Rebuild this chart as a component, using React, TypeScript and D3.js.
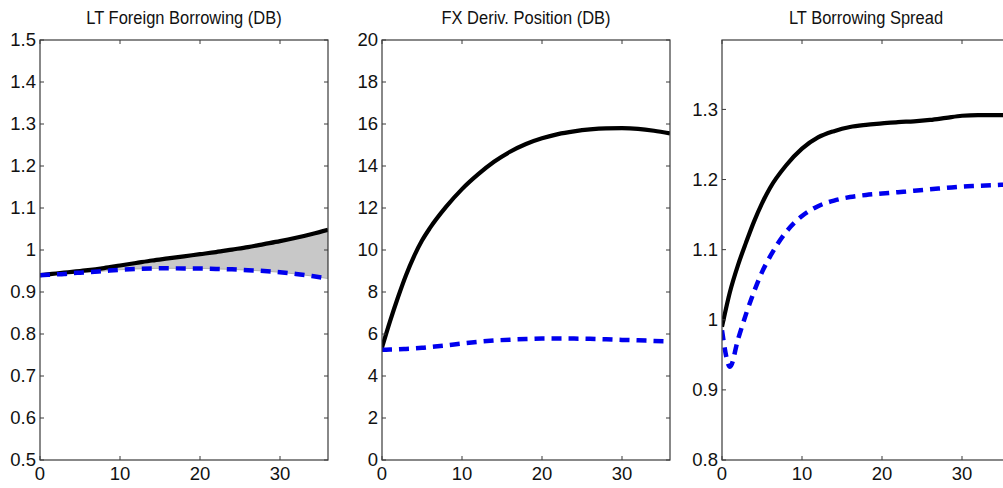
import React from "react";
import * as d3 from "d3";

const periods = [0, 1, 2, 3, 4, 5, 6, 8, 10, 12, 14, 16, 18, 20, 22, 24, 26, 28, 30, 32, 34, 36];

const borrowingSolid = [0.94, 0.942, 0.944, 0.946, 0.948, 0.95, 0.952, 0.957, 0.963, 0.969, 0.975, 0.98, 0.985, 0.99, 0.995, 1.001, 1.007, 1.014, 1.021, 1.029, 1.038, 1.048];
const borrowingDashed = [0.94, 0.941, 0.942, 0.943, 0.945, 0.946, 0.947, 0.95, 0.953, 0.955, 0.956, 0.9565, 0.956, 0.956, 0.955, 0.954, 0.952, 0.95, 0.947, 0.943, 0.938, 0.932];

const fxSolid = [5.35, 6.6, 7.75, 8.8, 9.7, 10.45, 11.05, 12.05, 12.9, 13.6, 14.2, 14.68, 15.05, 15.32, 15.52, 15.65, 15.74, 15.79, 15.8, 15.77, 15.68, 15.55];
const fxDashed = [5.25, 5.26, 5.27, 5.29, 5.31, 5.34, 5.38, 5.46, 5.55, 5.63, 5.69, 5.73, 5.76, 5.78, 5.78, 5.78, 5.77, 5.75, 5.72, 5.7, 5.67, 5.65];

const spreadSolid = [0.99, 1.04, 1.078, 1.11, 1.14, 1.166, 1.188, 1.22, 1.244, 1.26, 1.269, 1.275, 1.278, 1.28, 1.282, 1.283, 1.285, 1.288, 1.291, 1.292, 1.292, 1.292];
const spreadDashed = [0.985, 0.933, 0.972, 1.008, 1.04, 1.068, 1.09, 1.125, 1.148, 1.162, 1.17, 1.175, 1.178, 1.18, 1.182, 1.184, 1.186, 1.188, 1.19, 1.191, 1.192, 1.193];

const xTicks = [0, 10, 20, 30];
const ticks1 = [0.5, 0.6, 0.7, 0.8, 0.9, 1.0, 1.1, 1.2, 1.3, 1.4, 1.5];
const ticks2 = [0, 2, 4, 6, 8, 10, 12, 14, 16, 18, 20];
const ticks3 = [0.8, 0.9, 1.0, 1.1, 1.2, 1.3];

const titles = ["LT Foreign Borrowing (DB)", "FX Deriv. Position (DB)", "LT Borrowing Spread"];

type PanelSpec = {
  title: string;
  left: number;
  domain: [number, number];
  ticks: number[];
  solid: number[];
  dashed: number[];
  shade: boolean;
};

const panels: PanelSpec[] = [
  { title: titles[0], left: 40, domain: [0.5, 1.5], ticks: ticks1, solid: borrowingSolid, dashed: borrowingDashed, shade: true },
  { title: titles[1], left: 382, domain: [0, 20], ticks: ticks2, solid: fxSolid, dashed: fxDashed, shade: false },
  { title: titles[2], left: 722, domain: [0.8, 1.399], ticks: ticks3, solid: spreadSolid, dashed: spreadDashed, shade: false },
];

const TOP = 40;
const BOTTOM = 460;
const WIDTH = 288;
const FONT = "'Liberation Sans', Arial, sans-serif";
const AXIS = "#3a3a3a";
const TICK = 4;
const TICK_FONT = 18.5;

function fmt(v: number) {
  return d3.format("~g")(Number(v.toFixed(2)));
}

function Panel({ p, idx }: { p: PanelSpec; idx: number }) {
  const x = d3.scaleLinear().domain([0, 36]).range([p.left, p.left + WIDTH]);
  const y = d3.scaleLinear().domain(p.domain).range([BOTTOM, TOP]);
  const line = d3.line<number>().x((_, i) => x(periods[i])).y((d) => y(d)).curve(d3.curveMonotoneX);
  const area = d3
    .area<number>()
    .x((_, i) => x(periods[i]))
    .y0((_, i) => y(p.dashed[i]))
    .y1((d) => y(d))
    .curve(d3.curveMonotoneX);
  const clipId = `clip${idx}`;
  const right = p.left + WIDTH;
  return (
    <g>
      <defs>
        <clipPath id={clipId}>
          <rect x={p.left} y={TOP} width={WIDTH} height={BOTTOM - TOP} />
        </clipPath>
      </defs>
      <text
        transform={`translate(${p.left + WIDTH / 2},24) scale(1,1.12)`}
        textAnchor="middle"
        fontFamily={FONT}
        fontSize={16.5}
        fill="#111"
      >
        {p.title}
      </text>
      <g clipPath={`url(#${clipId})`}>
        {p.shade && <path d={area(p.solid) || ""} fill="#c8c8c8" stroke="#b0b0b0" strokeWidth={1} />}
        <path d={line(p.solid) || ""} fill="none" stroke="#000" strokeWidth={4.2} strokeLinejoin="round" />
        <path d={line(p.dashed) || ""} fill="none" stroke="#0000ee" strokeWidth={4.5} strokeDasharray="10,7" />
      </g>
      <rect x={p.left} y={TOP} width={WIDTH} height={BOTTOM - TOP} fill="none" stroke={AXIS} strokeWidth={1.2} />
      {xTicks.map((t) => (
        <g key={`x${t}`}>
          <line x1={x(t)} x2={x(t)} y1={BOTTOM} y2={BOTTOM - TICK} stroke={AXIS} />
          <line x1={x(t)} x2={x(t)} y1={TOP} y2={TOP + TICK} stroke={AXIS} />
          <text
            transform={`translate(${x(t)},480) scale(1,0.96)`}
            textAnchor="middle"
            fontFamily={FONT}
            fontSize={TICK_FONT}
            fill="#111"
          >
            {t}
          </text>
        </g>
      ))}
      {p.ticks.map((t) => (
        <g key={`y${t}`}>
          <line x1={p.left} x2={p.left + TICK} y1={y(t)} y2={y(t)} stroke={AXIS} />
          <line x1={right} x2={right - TICK} y1={y(t)} y2={y(t)} stroke={AXIS} />
          <text
            transform={`translate(${p.left - 4},${y(t) + 6.4}) scale(1,0.96)`}
            textAnchor="end"
            fontFamily={FONT}
            fontSize={TICK_FONT}
            fill="#111"
          >
            {fmt(t)}
          </text>
        </g>
      ))}
    </g>
  );
}

export default function App() {
  return (
    <svg
      width={1003}
      height={488}
      viewBox="0 0 1003 488"
      style={{ position: "absolute", left: 0, top: 0, background: "#fff" }}
    >
      <rect x={0} y={0} width={1003} height={488} fill="#fff" />
      {panels.map((p, i) => (
        <Panel key={i} p={p} idx={i} />
      ))}
    </svg>
  );
}
